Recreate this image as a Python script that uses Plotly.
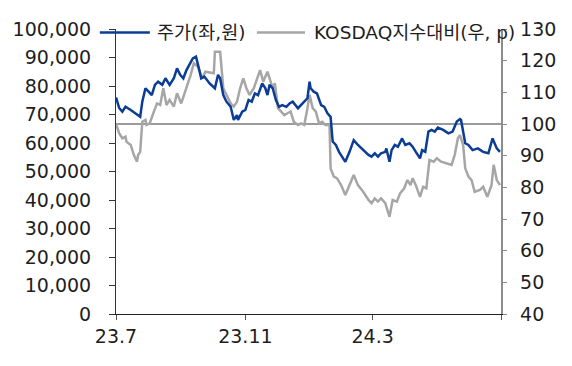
import plotly.graph_objects as go

# 주가 (좌축, 원)
price_dates = [
    "2023-07-01", "2023-07-04", "2023-07-07", "2023-07-10", "2023-07-15", "2023-07-19",
    "2023-07-24", "2023-07-26", "2023-07-29", "2023-08-01", "2023-08-04", "2023-08-07",
    "2023-08-10", "2023-08-14", "2023-08-17", "2023-08-21", "2023-08-25", "2023-08-28",
    "2023-08-31", "2023-09-03", "2023-09-06", "2023-09-12", "2023-09-15", "2023-09-17",
    "2023-09-20", "2023-09-23", "2023-09-28", "2023-10-03", "2023-10-06", "2023-10-08",
    "2023-10-11", "2023-10-14", "2023-10-18", "2023-10-21", "2023-10-24", "2023-10-25",
    "2023-10-29", "2023-11-01", "2023-11-04", "2023-11-07", "2023-11-10", "2023-11-13",
    "2023-11-17", "2023-11-20", "2023-11-22", "2023-11-24", "2023-11-27", "2023-11-30",
    "2023-12-03", "2023-12-06", "2023-12-10", "2023-12-13", "2023-12-16", "2023-12-21",
    "2023-12-24", "2023-12-27", "2023-12-30", "2024-01-01", "2024-01-02", "2024-01-05",
    "2024-01-08", "2024-01-12", "2024-01-15", "2024-01-18", "2024-01-21", "2024-01-23",
    "2024-01-26", "2024-01-29", "2024-02-04", "2024-02-08", "2024-02-12", "2024-02-16",
    "2024-02-21", "2024-02-26", "2024-02-29", "2024-03-03", "2024-03-06", "2024-03-09",
    "2024-03-13", "2024-03-14", "2024-03-17", "2024-03-19", "2024-03-22", "2024-03-25",
    "2024-03-29", "2024-04-01", "2024-04-05", "2024-04-08", "2024-04-11", "2024-04-15",
    "2024-04-17", "2024-04-20", "2024-04-23", "2024-04-26", "2024-04-29", "2024-05-02",
    "2024-05-07", "2024-05-12", "2024-05-16", "2024-05-20", "2024-05-23", "2024-05-24",
    "2024-05-28", "2024-05-31", "2024-06-04", "2024-06-09", "2024-06-14", "2024-06-19",
    "2024-06-23", "2024-06-27", "2024-06-30",
]
price_values = [
    76000, 72300, 71000, 72700, 71600, 70400,
    69200, 74500, 79200, 78000, 76800, 80400,
    81500, 80400, 82700, 80400, 82700, 86200,
    83900, 82700, 85600, 89700, 90300, 87400,
    82700, 83300, 80900, 79200, 83900, 82700,
    76800, 74500, 72700, 68100, 69800, 68100,
    71000, 71600, 75100, 74500, 77400, 76800,
    80900, 79200, 76800, 80400, 79200, 75100,
    72700, 73300, 72700, 73900, 74500, 72200,
    73300, 74500, 75700, 81500, 79200, 78000,
    77400, 73300, 72700, 70400, 69200, 60500,
    59300, 56900, 53400, 56900, 61000, 59300,
    57500, 55800, 55200, 56400, 55200, 56400,
    56900, 58100, 53400, 57500, 59300, 58700,
    61600, 59300, 59900, 58700, 56900, 54600,
    57500, 56900, 64000, 64600, 64000, 65400,
    64600, 63400, 64000, 67500, 68400, 68100,
    59900, 59300, 57500, 58100, 56900, 56400,
    61600, 58100, 56900,
]

# KOSDAQ 지수 대비 (우축, p)
rel_dates = [
    "2023-07-01", "2023-07-04", "2023-07-07", "2023-07-10", "2023-07-11", "2023-07-15",
    "2023-07-18", "2023-07-21", "2023-07-22", "2023-07-24", "2023-07-26", "2023-07-29",
    "2023-07-30", "2023-08-02", "2023-08-06", "2023-08-09", "2023-08-12", "2023-08-15",
    "2023-08-18", "2023-08-21", "2023-08-25", "2023-08-28", "2023-09-01", "2023-09-05",
    "2023-09-10", "2023-09-13", "2023-09-17", "2023-09-21", "2023-09-24", "2023-10-02",
    "2023-10-03", "2023-10-08", "2023-10-10", "2023-10-11", "2023-10-14", "2023-10-18",
    "2023-10-21", "2023-10-24", "2023-10-27", "2023-10-30", "2023-11-02", "2023-11-05",
    "2023-11-09", "2023-11-12", "2023-11-15", "2023-11-18", "2023-11-22", "2023-11-24",
    "2023-11-27", "2023-11-29", "2023-12-02", "2023-12-05", "2023-12-08", "2023-12-11",
    "2023-12-14", "2023-12-17", "2023-12-21", "2023-12-24", "2023-12-27", "2023-12-30",
    "2024-01-01", "2024-01-04", "2024-01-07", "2024-01-10", "2024-01-13", "2024-01-16",
    "2024-01-20", "2024-01-21", "2024-01-24", "2024-01-27", "2024-01-31", "2024-02-04",
    "2024-02-08", "2024-02-12", "2024-02-16", "2024-02-21", "2024-02-26", "2024-02-29",
    "2024-03-03", "2024-03-06", "2024-03-09", "2024-03-13", "2024-03-17", "2024-03-20",
    "2024-03-24", "2024-03-27", "2024-03-31", "2024-04-03", "2024-04-06", "2024-04-08",
    "2024-04-11", "2024-04-15", "2024-04-18", "2024-04-21", "2024-04-24", "2024-04-28",
    "2024-05-01", "2024-05-05", "2024-05-10", "2024-05-15", "2024-05-18", "2024-05-21",
    "2024-05-23", "2024-05-26", "2024-05-28", "2024-05-31", "2024-06-03", "2024-06-06",
    "2024-06-11", "2024-06-14", "2024-06-18", "2024-06-22", "2024-06-24", "2024-06-27",
    "2024-06-30",
]
rel_values = [
    100, 97.1, 95.5, 96, 94.4, 93.4,
    90.2, 88.1, 90.2, 91.2, 100.7, 101.3,
    99.7, 100.2, 103.9, 106.5, 106, 111.3,
    106, 107.6, 105.5, 109.7, 106.5, 110.2,
    115.5, 119.2, 118.1, 114.4, 116.5, 116,
    122.8, 122.8, 115.5, 111.3, 109.2, 106.5,
    105.5, 107, 111.3, 114.4, 111.3, 109.2,
    111.3, 114.4, 117, 113.4, 116.5, 114.4,
    111.3, 112.9, 105, 103.9, 102.8, 103.4,
    103.9, 100.7, 99.7, 100.2, 99.7, 105,
    109.2, 105, 103.9, 100.2, 100.7, 99.7,
    99.7, 86, 83.4, 82.9, 80.7, 77.6,
    80.7, 83.9, 80.7, 78.6, 76, 75,
    76.5, 75.5, 76.5, 75, 70.7, 76,
    75.5, 78.1, 79.7, 82.3, 80.7, 82.9,
    80.7, 77, 80.2, 79.7, 88.6, 88.1,
    89.2, 88.1, 87.6, 87.1, 90.2, 95.5,
    96.5, 93.4, 86, 83.4, 82.3, 78.6,
    79.2, 80.2, 77, 80.7, 87.1, 82.3,
    80.7,
]

x_range = ["2023-07-01", "2024-07-01"]
x_tickvals = ["2023-07-01", "2023-11-01", "2024-03-01", "2024-07-01"]
x_ticktext = ["23.7", "23.11", "24.3", ""]
baseline = 100

legend_labels = ["주가(좌,원)", "KOSDAQ지수대비(우, p)"]

FONT = "DejaVu Sans, Noto Sans CJK KR, sans-serif"
TEXT = "#1e1e1e"
BLUE = "#0b3c96"
GRAY = "#a6a6a6"

fig = go.Figure()
fig.add_trace(go.Scatter(
    x=rel_dates, y=rel_values, name=legend_labels[1],
    mode="lines", line=dict(color=GRAY, width=2.5), yaxis="y", showlegend=False,
))
fig.add_trace(go.Scatter(
    x=price_dates, y=price_values, name=legend_labels[0],
    mode="lines", line=dict(color=BLUE, width=2.5), yaxis="y2", showlegend=False,
))

# 100 기준선
fig.add_shape(type="line", xref="paper", x0=0, x1=1, yref="y", y0=baseline, y1=baseline,
              line=dict(color="#9a9a9a", width=2), layer="below")

# legend (line samples + labels)
legend_y = 0.988
for color, label, lx0, lx1, tx in [
    (BLUE, legend_labels[0], -0.042, 0.088, 0.100),
    (GRAY, legend_labels[1], 0.366, 0.491, 0.510),
]:
    fig.add_shape(type="line", xref="paper", yref="paper", x0=lx0, x1=lx1,
                  y0=legend_y, y1=legend_y, line=dict(color=color, width=2.5))
    fig.add_annotation(xref="paper", yref="paper", x=tx, y=legend_y, text=label,
                       showarrow=False, xanchor="left", yanchor="middle",
                       font=dict(family=FONT, size=18.5, color=TEXT))

fig.update_layout(
    width=564, height=358,
    margin=dict(l=108, r=71, t=21, b=52, autoexpand=False),
    paper_bgcolor="white", plot_bgcolor="white",
    font=dict(family=FONT, size=19, color=TEXT),
    showlegend=False,
    xaxis=dict(
        type="date", range=x_range, tickvals=x_tickvals, ticktext=x_ticktext,
        showgrid=False, zeroline=False, showline=True, linecolor="#222", linewidth=1,
        ticks="outside", ticklen=5, tickcolor="#555", tickwidth=1,
        ticklabelstandoff=0, automargin=False,
    ),
    yaxis=dict(
        side="right", range=[40, 130], dtick=10, tick0=40,
        showgrid=False, zeroline=False, showline=True, linecolor="#8c8c8c", linewidth=1.5,
        ticks="outside", ticklen=4, tickcolor="#8c8c8c",
        tickprefix="\u2002", automargin=False,
    ),
    yaxis2=dict(
        side="left", overlaying="y", range=[0, 100000], dtick=10000, tick0=0,
        tickformat=",d", showgrid=False, zeroline=False, showline=True,
        linecolor="#333", linewidth=1, ticks="outside", ticklen=6, tickcolor="#333",
        ticklabelstandoff=14, automargin=False,
    ),
)

fig.write_html("out.html")
